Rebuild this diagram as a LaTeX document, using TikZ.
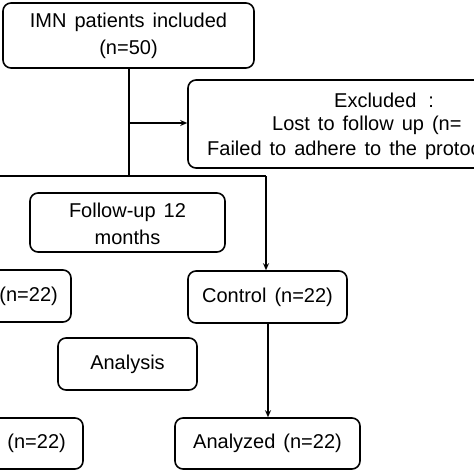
\documentclass[tikz,border=0pt]{standalone}
\usepackage{fontspec}
\setmainfont{Liberation Sans}
\usetikzlibrary{arrows.meta}
\newcommand\widewords{\spaceskip=0.4em\relax}
\begin{document}
\begin{tikzpicture}[x=1pt,y=-1pt,
  box/.style={draw, line width=1.6pt, rounded corners=8pt, inner sep=0pt},
  txt/.style={inner sep=0pt, font={\fontsize{20}{27}\selectfont\widewords}, align=center},
  conn/.style={line width=1.5pt},
  arr/.style={line width=1.5pt, -{Stealth[length=7pt,width=6pt]}}]
\useasboundingbox (0,0) rectangle (474,474);
\clip (0,0) rectangle (474,474);
% boxes
\node[box, minimum width=251pt, minimum height=65pt] (top) at (128.5,35.5) {};
\node[txt] (toptxt) at (128.5,36) {IMN patients included\\(n=50)};
\node[box, minimum width=380pt, minimum height=88pt] (excl) at (378,124) {};
\node[txt, anchor=west] (ex1) at (334,100) {Excluded\hspace{12pt}:};
\node[txt, anchor=west] (ex2) at (272,125) {Lost to follow up (n=};
\node[txt, anchor=west] (ex3) at (207,150) {Failed to adhere to the protocol};
\node[box, minimum width=195pt, minimum height=59pt] (fu) at (127.5,222.5) {};
\node[txt] (futxt) at (127.5,223.5) {Follow-up 12\\months};
\node[box, minimum width=180pt, minimum height=52pt] (treat) at (-19,296) {};
\node[txt, anchor=east] (treattxt) at (58,296) {(n=22)};
\node[box, minimum width=159pt, minimum height=52pt] (ctrl) at (267.5,297) {};
\node[txt] (ctrltxt) at (267.5,297) {Control (n=22)};
\node[box, minimum width=139pt, minimum height=52pt] (ana) at (127.5,364) {};
\node[txt] (anatxt) at (127.5,364) {Analysis};
\node[box, minimum width=180pt, minimum height=51pt] (tan) at (-7,443.5) {};
\node[txt, anchor=east] (tantxt) at (66,443.5) {(n=22)};
\node[box, minimum width=185pt, minimum height=51pt] (can) at (267.5,443.5) {};
\node[txt] (cantxt) at (267.5,443.5) {Analyzed (n=22)};
% connectors
\coordinate (split) at (129,176);
\coordinate (mid) at (129,123);
\coordinate (lft) at (-10,176);
\coordinate (rgt) at (266,176);
\coordinate (down) at (268,350);
\draw[conn] (top.south -| split) -- (split);
\draw[conn] (lft) -- (rgt);
\draw[arr] (mid) -- (mid -| excl.west);
\draw[arr] (rgt) -- (rgt |- ctrl.north);
\draw[arr] (ctrl.south -| down) -- (can.north -| down);
\end{tikzpicture}
\end{document}
